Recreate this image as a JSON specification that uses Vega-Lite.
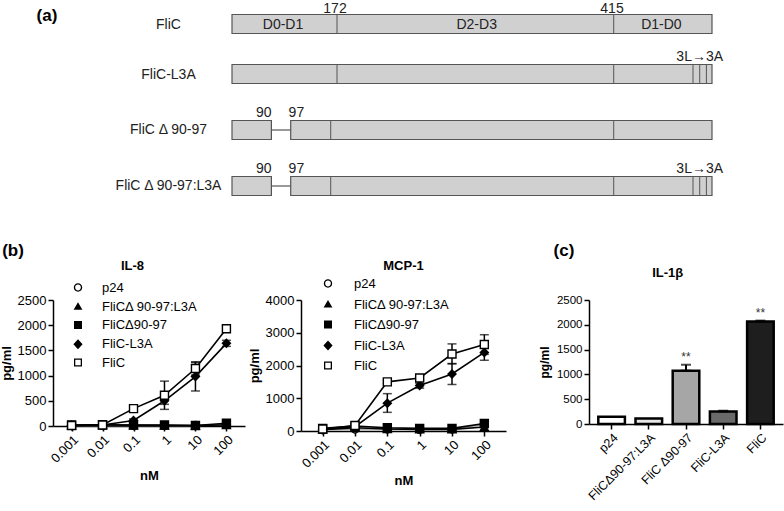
{
  "$schema": "https://vega.github.io/schema/vega-lite/v6.json",
  "padding": 0,
  "background": "white",
  "spacing": 0,
  "resolve": {"scale": {"shape": "independent", "x": "independent", "y": "independent"}, "legend": {"shape": "independent"}},
  "datasets": {
    "segments": [
      {"construct": "FliC", "row": 24, "start": 0, "end": 480},
      {"construct": "FliC-L3A", "row": 74, "start": 0, "end": 480},
      {"construct": "FliC Δ 90-97", "row": 130, "start": 0, "end": 39.4},
      {"construct": "FliC Δ 90-97", "row": 130, "start": 58.7, "end": 480},
      {"construct": "FliC Δ 90-97:L3A", "row": 186, "start": 0, "end": 39.4},
      {"construct": "FliC Δ 90-97:L3A", "row": 186, "start": 58.7, "end": 480}
    ],
    "linkers": [
      {"row": 130, "start": 39.4, "end": 58.7},
      {"row": 186, "start": 39.4, "end": 58.7}
    ],
    "dividers": [
      {"row": 24, "pos": 105}, {"row": 24, "pos": 381.7},
      {"row": 74, "pos": 105}, {"row": 74, "pos": 381.7}, {"row": 74, "pos": 461}, {"row": 74, "pos": 467.7}, {"row": 74, "pos": 474.4},
      {"row": 130, "pos": 98.7}, {"row": 130, "pos": 381.7},
      {"row": 186, "pos": 98.7}, {"row": 186, "pos": 381.7}, {"row": 186, "pos": 461}, {"row": 186, "pos": 467.7}, {"row": 186, "pos": 474.4}
    ],
    "rowLabels": [
      {"construct": "FliC", "row": 25, "at": -63.5},
      {"construct": "FliC-L3A", "row": 75, "at": -63.5},
      {"construct": "FliC Δ 90-97", "row": 130, "at": -63.5},
      {"construct": "FliC Δ 90-97:L3A", "row": 186, "at": -63.5}
    ],
    "domainLabels": [
      {"label": "D0-D1", "row": 25, "at": 51},
      {"label": "D2-D3", "row": 25, "at": 244.7},
      {"label": "D1-D0", "row": 25, "at": 429.4}
    ],
    "siteLabels": [
      {"label": "172", "row": 26, "at": 103},
      {"label": "415", "row": 26, "at": 380},
      {"label": "3L→3A", "row": 74, "at": 467.7},
      {"label": "90", "row": 130, "at": 31.7},
      {"label": "97", "row": 130, "at": 64.4},
      {"label": "90", "row": 186, "at": 31.7},
      {"label": "97", "row": 186, "at": 64.4},
      {"label": "3L→3A", "row": 186, "at": 467.7}
    ],
    "panelLetters": [
      {"label": "(a)", "at": -185, "row": 16},
      {"label": "(b)", "at": -219, "row": 251},
      {"label": "(c)", "at": 332, "row": 251}
    ],
    "il8": [
      {"series": "p24", "conc": "0.001", "mean": 10},
      {"series": "p24", "conc": "0.01", "mean": 10},
      {"series": "p24", "conc": "0.1", "mean": 10},
      {"series": "p24", "conc": "1", "mean": 10},
      {"series": "p24", "conc": "10", "mean": 10},
      {"series": "p24", "conc": "100", "mean": 30},
      {"series": "FliCΔ 90-97:L3A", "conc": "0.001", "mean": 15},
      {"series": "FliCΔ 90-97:L3A", "conc": "0.01", "mean": 20},
      {"series": "FliCΔ 90-97:L3A", "conc": "0.1", "mean": 15},
      {"series": "FliCΔ 90-97:L3A", "conc": "1", "mean": 10},
      {"series": "FliCΔ 90-97:L3A", "conc": "10", "mean": 10},
      {"series": "FliCΔ 90-97:L3A", "conc": "100", "mean": 20},
      {"series": "FliCΔ90-97", "conc": "0.001", "mean": 20},
      {"series": "FliCΔ90-97", "conc": "0.01", "mean": 25},
      {"series": "FliCΔ90-97", "conc": "0.1", "mean": 20},
      {"series": "FliCΔ90-97", "conc": "1", "mean": 20},
      {"series": "FliCΔ90-97", "conc": "10", "mean": 10},
      {"series": "FliCΔ90-97", "conc": "100", "mean": 55},
      {"series": "FliC-L3A", "conc": "0.001", "mean": 10},
      {"series": "FliC-L3A", "conc": "0.01", "mean": 20},
      {"series": "FliC-L3A", "conc": "0.1", "mean": 110, "lo": 80, "hi": 140},
      {"series": "FliC-L3A", "conc": "1", "mean": 500, "lo": 330, "hi": 670},
      {"series": "FliC-L3A", "conc": "10", "mean": 980, "lo": 695, "hi": 1260},
      {"series": "FliC-L3A", "conc": "100", "mean": 1640, "lo": 1580, "hi": 1700},
      {"series": "FliC", "conc": "0.001", "mean": 10},
      {"series": "FliC", "conc": "0.01", "mean": 20},
      {"series": "FliC", "conc": "0.1", "mean": 345, "lo": 320, "hi": 370},
      {"series": "FliC", "conc": "1", "mean": 610, "lo": 430, "hi": 890},
      {"series": "FliC", "conc": "10", "mean": 1140, "lo": 1010, "hi": 1275},
      {"series": "FliC", "conc": "100", "mean": 1930, "lo": 1870, "hi": 1990}
    ],
    "mcp1": [
      {"series": "p24", "conc": "0.001", "mean": 40},
      {"series": "p24", "conc": "0.01", "mean": 60},
      {"series": "p24", "conc": "0.1", "mean": 60},
      {"series": "p24", "conc": "1", "mean": 50},
      {"series": "p24", "conc": "10", "mean": 60},
      {"series": "p24", "conc": "100", "mean": 200},
      {"series": "FliCΔ 90-97:L3A", "conc": "0.001", "mean": 40},
      {"series": "FliCΔ 90-97:L3A", "conc": "0.01", "mean": 100},
      {"series": "FliCΔ 90-97:L3A", "conc": "0.1", "mean": 60},
      {"series": "FliCΔ 90-97:L3A", "conc": "1", "mean": 50},
      {"series": "FliCΔ 90-97:L3A", "conc": "10", "mean": 50},
      {"series": "FliCΔ 90-97:L3A", "conc": "100", "mean": 120},
      {"series": "FliCΔ90-97", "conc": "0.001", "mean": 80},
      {"series": "FliCΔ90-97", "conc": "0.01", "mean": 150},
      {"series": "FliCΔ90-97", "conc": "0.1", "mean": 100},
      {"series": "FliCΔ90-97", "conc": "1", "mean": 80},
      {"series": "FliCΔ90-97", "conc": "10", "mean": 80},
      {"series": "FliCΔ90-97", "conc": "100", "mean": 230},
      {"series": "FliC-L3A", "conc": "0.001", "mean": 50},
      {"series": "FliC-L3A", "conc": "0.01", "mean": 130},
      {"series": "FliC-L3A", "conc": "0.1", "mean": 850, "lo": 570, "hi": 1140},
      {"series": "FliC-L3A", "conc": "1", "mean": 1390, "lo": 1310, "hi": 1460},
      {"series": "FliC-L3A", "conc": "10", "mean": 1740, "lo": 1420, "hi": 2060},
      {"series": "FliC-L3A", "conc": "100", "mean": 2400, "lo": 2160, "hi": 2640},
      {"series": "FliC", "conc": "0.001", "mean": 60},
      {"series": "FliC", "conc": "0.01", "mean": 170},
      {"series": "FliC", "conc": "0.1", "mean": 1500, "lo": 1450, "hi": 1550},
      {"series": "FliC", "conc": "1", "mean": 1620, "lo": 1570, "hi": 1670},
      {"series": "FliC", "conc": "10", "mean": 2350, "lo": 2050, "hi": 2660},
      {"series": "FliC", "conc": "100", "mean": 2640, "lo": 2340, "hi": 2940}
    ],
    "il1b": [
      {"group": "p24", "value": 145},
      {"group": "FliCΔ90-97:L3A", "value": 112},
      {"group": "FliC Δ90-97", "value": 1075, "hi": 1195, "sig": "**"},
      {"group": "FliC-L3A", "value": 250, "hi": 268},
      {"group": "FliC", "value": 2065, "hi": 2085, "sig": "**"}
    ]
  },
  "vconcat": [
    {
      "width": 731,
      "height": 257,
      "layer": [
        {
          "data": {"name": "segments"},
          "mark": {"type": "bar", "orient": "horizontal", "height": 19, "fill": "#d0d0d0", "stroke": "#555555", "strokeWidth": 1.2},
          "encoding": {
            "x": {"field": "start", "type": "quantitative", "scale": {"domain": [-179, 552], "nice": false, "zero": false}, "axis": null},
            "x2": {"field": "end"},
            "y": {"field": "row", "type": "quantitative", "scale": {"domain": [0, 257], "reverse": true, "nice": false, "zero": false, "padding": 0}, "axis": null}
          }
        },
        {
          "data": {"name": "linkers"},
          "mark": {"type": "rule", "stroke": "#555555", "strokeWidth": 1.2},
          "encoding": {
            "x": {"field": "start", "type": "quantitative"},
            "x2": {"field": "end"},
            "y": {"field": "row", "type": "quantitative"}
          }
        },
        {
          "data": {"name": "dividers"},
          "mark": {"type": "tick", "orient": "vertical", "size": 19, "thickness": 1, "color": "#555555", "opacity": 1},
          "encoding": {
            "x": {"field": "pos", "type": "quantitative"},
            "y": {"field": "row", "type": "quantitative"}
          }
        },
        {
          "data": {"name": "rowLabels"},
          "mark": {"type": "text", "fontSize": 14, "align": "center", "baseline": "middle", "color": "#222222"},
          "encoding": {
            "x": {"field": "at", "type": "quantitative"},
            "y": {"field": "row", "type": "quantitative"},
            "text": {"field": "construct"}
          }
        },
        {
          "data": {"name": "domainLabels"},
          "mark": {"type": "text", "fontSize": 14, "align": "center", "baseline": "middle", "color": "#222222"},
          "encoding": {
            "x": {"field": "at", "type": "quantitative"},
            "y": {"field": "row", "type": "quantitative"},
            "text": {"field": "label"}
          }
        },
        {
          "data": {"name": "siteLabels"},
          "mark": {"type": "text", "fontSize": 14, "align": "center", "baseline": "middle", "dy": -17, "color": "#222222"},
          "encoding": {
            "x": {"field": "at", "type": "quantitative"},
            "y": {"field": "row", "type": "quantitative"},
            "text": {"field": "label"}
          }
        },
        {
          "data": {"name": "panelLetters"},
          "mark": {"type": "text", "fontSize": 17, "fontWeight": "bold", "align": "center", "baseline": "middle", "color": "black"},
          "encoding": {
            "x": {"field": "at", "type": "quantitative"},
            "y": {"field": "row", "type": "quantitative"},
            "text": {"field": "label"}
          }
        }
      ]
    },
    {
      "spacing": 32,
      "resolve": {"scale": {"shape": "independent", "x": "independent", "y": "independent"}, "legend": {"shape": "independent"}},
      "hconcat": [
        {
          "spacing": 3,
          "resolve": {"scale": {"shape": "independent", "x": "independent", "y": "independent"}, "legend": {"shape": "independent"}},
          "hconcat": [
            {
              "width": 192,
              "height": 126,
              "title": {"text": "IL-8", "offset": 8.5, "frame": "bounds", "dx": 10},
              "data": {"name": "il8"},
              "resolve": {"scale": {"shape": "independent"}, "legend": {"shape": "independent"}},
              "encoding": {
                "x": {"field": "conc", "type": "ordinal", "scale": {"type": "point", "domain": ["0.001", "0.01", "0.1", "1", "10", "100"], "padding": 0.6}, "axis": {"title": "nM", "labelAngle": -45, "titlePadding": 4}}
              },
              "layer": [
                {
                  "mark": {"type": "line", "strokeWidth": 1.6},
                  "encoding": {
                    "y": {"field": "mean", "type": "quantitative", "scale": {"domain": [0, 2500], "nice": false}, "axis": {"title": "pg/ml", "values": [0, 500, 1000, 1500, 2000, 2500], "format": "d", "titlePadding": 4}},
                    "detail": {"field": "series"},
                    "stroke": {"condition": {"test": "datum.series === 'p24'", "value": "#9a9a9a"}, "value": "black"}
                  }
                },
                {
                  "transform": [{"filter": "isValid(datum.lo)"}],
                  "mark": {"type": "errorbar", "ticks": {"size": 9, "thickness": 1.5, "color": "black"}, "rule": {"strokeWidth": 1.5, "color": "black"}},
                  "encoding": {
                    "y": {"field": "lo", "type": "quantitative", "axis": {"title": "pg/ml", "values": [0, 500, 1000, 1500, 2000, 2500], "format": "d", "titlePadding": 4}},
                    "y2": {"field": "hi"}
                  }
                },
                {
                  "mark": {"type": "point", "filled": true, "size": 64, "stroke": "black", "strokeWidth": 1.4, "opacity": 1},
                  "encoding": {
                    "y": {"field": "mean", "type": "quantitative", "axis": {"title": "pg/ml", "values": [0, 500, 1000, 1500, 2000, 2500], "format": "d", "titlePadding": 4}},
                    "fill": {"condition": {"test": "datum.series === 'p24' || datum.series === 'FliC'", "value": "white"}, "value": "black"},
                    "shape": {
                      "field": "series", "type": "nominal",
                      "scale": {"domain": ["p24", "FliCΔ 90-97:L3A", "FliCΔ90-97", "FliC-L3A", "FliC"], "range": ["circle", "triangle-up", "square", "diamond", "square"]},
                      "legend": null
                    }
                  }
                },
                {
                  "transform": [{"filter": "false"}],
                  "mark": {"type": "point", "filled": true, "fill": "black", "stroke": "black", "strokeWidth": 1},
                  "encoding": {
                    "y": {"field": "mean", "type": "quantitative", "axis": {"title": "pg/ml", "values": [0, 500, 1000, 1500, 2000, 2500], "format": "d", "titlePadding": 4}},
                    "shape": {
                      "field": "series", "type": "nominal",
                      "scale": {"domain": ["p24", "FliCΔ 90-97:L3A", "FliCΔ90-97", "FliC-L3A", "FliC"], "range": ["M-1.9,0H-1.05M1.05,0H1.9M1.05,0A1.05,1.05,0,1,1,-1.05,0A1.05,1.05,0,1,1,1.05,0ZM0.72,0A0.72,0.72,0,1,0,-0.72,0A0.72,0.72,0,1,0,0.72,0Z", "M-1.9,0H1.9M0,-1.15L1.1,0.75H-1.1Z", "M-1.9,0H1.9M-1,-1H1V1H-1Z", "M-1.9,0H1.9M0,-1.25L1.15,0L0,1.25L-1.15,0Z", "M-1.9,0H-1M1,0H1.9M-1,-1H1V1H-1ZM-0.68,-0.68V0.68H0.68V-0.68Z"]},
                      "legend": {"orient": "none", "legendX": 18.5, "legendY": -19, "title": null, "padding": 0, "rowPadding": 4.25, "labelOffset": 17.5, "symbolSize": 64, "symbolStrokeWidth": 1, "symbolOpacity": 1, "symbolStrokeColor": "black", "symbolFillColor": "black", "labelFontSize": 13, "labelLimit": 0}
                    }
                  }
                }
              ]
            },
            {
              "width": 205,
              "height": 131,
              "title": {"text": "MCP-1", "offset": 4.5, "frame": "group"},
              "data": {"name": "mcp1"},
              "resolve": {"scale": {"shape": "independent"}, "legend": {"shape": "independent"}},
              "encoding": {
                "x": {"field": "conc", "type": "ordinal", "scale": {"type": "point", "domain": ["0.001", "0.01", "0.1", "1", "10", "100"], "padding": 0.67}, "axis": {"title": "nM", "labelAngle": -45, "titlePadding": 4}}
              },
              "layer": [
                {
                  "mark": {"type": "line", "strokeWidth": 1.6},
                  "encoding": {
                    "y": {"field": "mean", "type": "quantitative", "scale": {"domain": [0, 4000], "nice": false}, "axis": {"title": "pg/ml", "values": [0, 1000, 2000, 3000, 4000], "format": "d", "titlePadding": 4}},
                    "detail": {"field": "series"},
                    "stroke": {"condition": {"test": "datum.series === 'p24'", "value": "#9a9a9a"}, "value": "black"}
                  }
                },
                {
                  "transform": [{"filter": "isValid(datum.lo)"}],
                  "mark": {"type": "errorbar", "ticks": {"size": 9, "thickness": 1.5, "color": "black"}, "rule": {"strokeWidth": 1.5, "color": "black"}},
                  "encoding": {
                    "y": {"field": "lo", "type": "quantitative", "axis": {"title": "pg/ml", "values": [0, 1000, 2000, 3000, 4000], "format": "d", "titlePadding": 4}},
                    "y2": {"field": "hi"}
                  }
                },
                {
                  "mark": {"type": "point", "filled": true, "size": 64, "stroke": "black", "strokeWidth": 1.4, "opacity": 1},
                  "encoding": {
                    "y": {"field": "mean", "type": "quantitative", "axis": {"title": "pg/ml", "values": [0, 1000, 2000, 3000, 4000], "format": "d", "titlePadding": 4}},
                    "fill": {"condition": {"test": "datum.series === 'p24' || datum.series === 'FliC'", "value": "white"}, "value": "black"},
                    "shape": {
                      "field": "series", "type": "nominal",
                      "scale": {"domain": ["p24", "FliCΔ 90-97:L3A", "FliCΔ90-97", "FliC-L3A", "FliC"], "range": ["circle", "triangle-up", "square", "diamond", "square"]},
                      "legend": null
                    }
                  }
                },
                {
                  "transform": [{"filter": "false"}],
                  "mark": {"type": "point", "filled": true, "fill": "black", "stroke": "black", "strokeWidth": 1},
                  "encoding": {
                    "y": {"field": "mean", "type": "quantitative", "axis": {"title": "pg/ml", "values": [0, 1000, 2000, 3000, 4000], "format": "d", "titlePadding": 4}},
                    "shape": {
                      "field": "series", "type": "nominal",
                      "scale": {"domain": ["p24", "FliCΔ 90-97:L3A", "FliCΔ90-97", "FliC-L3A", "FliC"], "range": ["M-1.9,0H-1.05M1.05,0H1.9M1.05,0A1.05,1.05,0,1,1,-1.05,0A1.05,1.05,0,1,1,1.05,0ZM0.72,0A0.72,0.72,0,1,0,-0.72,0A0.72,0.72,0,1,0,0.72,0Z", "M-1.9,0H1.9M0,-1.15L1.1,0.75H-1.1Z", "M-1.9,0H1.9M-1,-1H1V1H-1Z", "M-1.9,0H1.9M0,-1.25L1.15,0L0,1.25L-1.15,0Z", "M-1.9,0H-1M1,0H1.9M-1,-1H1V1H-1ZM-0.68,-0.68V0.68H0.68V-0.68Z"]},
                      "legend": {"orient": "none", "legendX": 20.5, "legendY": -23, "title": null, "padding": 0, "rowPadding": 6, "labelOffset": 19.5, "symbolSize": 64, "symbolStrokeWidth": 1, "symbolOpacity": 1, "symbolStrokeColor": "black", "symbolFillColor": "black", "labelFontSize": 13, "labelLimit": 0}
                    }
                  }
                }
              ]
            }
          ]
        },
        {
          "width": 194,
          "height": 124,
          "title": {"text": "IL-1β", "offset": 14.5, "frame": "bounds", "dx": 7},
          "data": {"name": "il1b"},
          "encoding": {
            "x": {"field": "group", "type": "nominal", "scale": {"type": "band", "domain": ["p24", "FliCΔ90-97:L3A", "FliC Δ90-97", "FliC-L3A", "FliC"], "paddingInner": 0.285, "paddingOuter": 0.25}, "axis": {"title": null, "labelAngle": -45, "labelFontSize": 12.5}}
          },
          "layer": [
            {
              "mark": {"type": "bar", "stroke": "black", "strokeWidth": 2.5},
              "encoding": {
                "y": {"field": "value", "type": "quantitative", "scale": {"domain": [0, 2500], "nice": false}, "axis": {"title": "pg/ml", "values": [0, 500, 1000, 1500, 2000, 2500], "format": "d", "labelFontSize": 11.5, "titleFontSize": 12, "titlePadding": 5}},
                "fill": {"field": "group", "type": "nominal", "scale": {"domain": ["p24", "FliCΔ90-97:L3A", "FliC Δ90-97", "FliC-L3A", "FliC"], "range": ["#ffffff", "#e6e6e6", "#a6a6a6", "#6a6a6a", "#1e1e1e"]}, "legend": null}
              }
            },
            {
              "transform": [{"filter": "isValid(datum.hi)"}],
              "mark": {"type": "errorbar", "ticks": {"size": 10, "thickness": 2, "color": "black"}, "rule": {"strokeWidth": 2, "color": "black"}},
              "encoding": {
                "y": {"field": "value", "type": "quantitative", "axis": {"title": "pg/ml", "values": [0, 500, 1000, 1500, 2000, 2500], "format": "d", "labelFontSize": 11.5, "titleFontSize": 12, "titlePadding": 5}},
                "y2": {"field": "hi"}
              }
            },
            {
              "transform": [{"filter": "isValid(datum.sig)"}],
              "mark": {"type": "text", "fontSize": 12, "baseline": "alphabetic", "dy": -4, "color": "#333333"},
              "encoding": {
                "y": {"field": "hi", "type": "quantitative", "axis": {"title": "pg/ml", "values": [0, 500, 1000, 1500, 2000, 2500], "format": "d", "labelFontSize": 11.5, "titleFontSize": 12, "titlePadding": 5}},
                "text": {"field": "sig"}
              }
            }
          ]
        }
      ]
    }
  ],
  "config": {
    "font": "Liberation Sans",
    "view": {"stroke": null},
    "axis": {
      "domainColor": "black", "domainWidth": 1.5, "tickColor": "black", "tickWidth": 1.5, "tickSize": 5,
      "labelColor": "black", "labelFont": "Liberation Sans", "labelFontSize": 13, "labelPadding": 2,
      "titleFont": "Liberation Sans", "titleFontSize": 13, "titleFontWeight": "bold", "titleColor": "black", "grid": false
    },
    "title": {"font": "Liberation Sans", "fontSize": 13, "fontWeight": "bold", "color": "black"},
    "legend": {"labelFont": "Liberation Sans", "labelColor": "black"}
  }
}
